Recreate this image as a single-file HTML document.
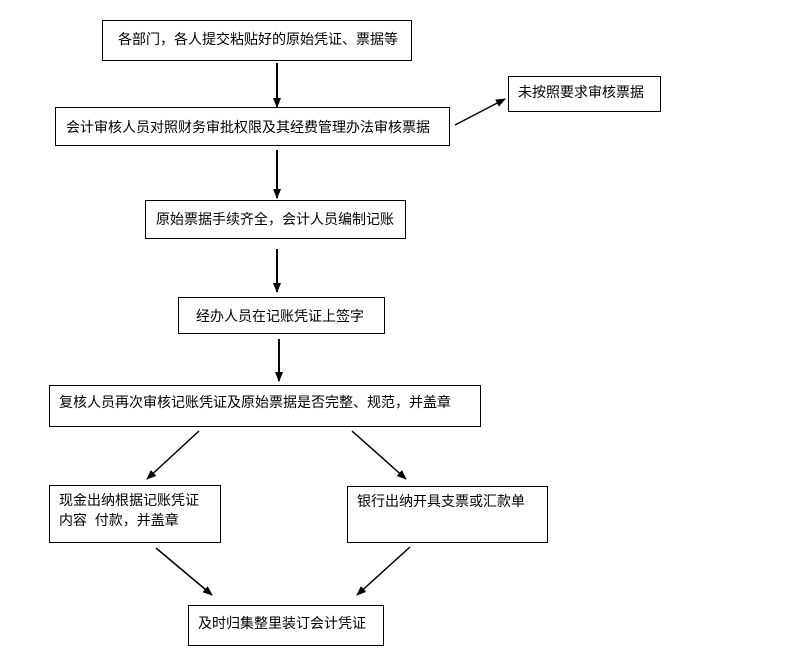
<!DOCTYPE html>
<html><head><meta charset="utf-8"><style>
body{margin:0;width:793px;height:666px;background:#fff;position:relative;overflow:hidden;font-family:"Liberation Sans","Noto Sans CJK SC","WenQuanYi Zen Hei",sans-serif;font-size:14px;color:#000}
.b{position:absolute;border:1px solid #000;box-sizing:border-box;line-height:20px;white-space:nowrap}
svg{position:absolute;left:0;top:0}
</style></head><body>
<svg width="793" height="666">
<defs><marker id="a" markerWidth="10" markerHeight="10" refX="9" refY="5" orient="auto" markerUnits="userSpaceOnUse"><path d="M0,1 L10,5 L0,9 Z" fill="#000"/></marker></defs>
<g stroke="#000" stroke-width="2" marker-end="url(#a)">
<line x1="277" y1="63" x2="277" y2="107"/>
<line x1="277" y1="150" x2="277" y2="198"/>
<line x1="277" y1="249" x2="277" y2="292"/>
<line x1="279" y1="339" x2="279" y2="381"/>
</g>
<g stroke="#000" stroke-width="1.5" marker-end="url(#a)">
<line x1="455" y1="125" x2="505" y2="99"/>
<line x1="199" y1="431" x2="147" y2="479"/>
<line x1="352" y1="431" x2="406" y2="479"/>
<line x1="156" y1="548" x2="212" y2="595"/>
<line x1="410" y1="547" x2="357" y2="595"/>
</g></svg>
<div class="b" style="left:102px;top:20px;width:310px;height:41px;padding:8px 0 0 15px">各部门，各人提交粘贴好的原始凭证、票据等</div>
<div class="b" style="left:55px;top:107px;width:395px;height:39px;padding:9px 0 0 10px">会计审核人员对照财务审批权限及其经费管理办法审核票据</div>
<div class="b" style="left:508px;top:76px;width:153px;height:36px;padding:5px 0 0 9px">未按照要求审核票据</div>
<div class="b" style="left:145px;top:200px;width:261px;height:39px;padding:8px 0 0 10px">原始票据手续齐全，会计人员编制记账</div>
<div class="b" style="left:178px;top:297px;width:207px;height:37px;padding:8px 0 0 17px">经办人员在记账凭证上签字</div>
<div class="b" style="left:49px;top:385px;width:432px;height:42px;padding:6px 0 0 9px">复核人员再次审核记账凭证及原始票据是否完整、规范，并盖章</div>
<div class="b" style="left:49px;top:485px;width:172px;height:58px;padding:4px 0 0 9px">现金出纳根据记账凭证<br>内容&nbsp; 付款，并盖章</div>
<div class="b" style="left:347px;top:486px;width:201px;height:57px;padding:4px 0 0 9px">银行出纳开具支票或汇款单</div>
<div class="b" style="left:188px;top:605px;width:196px;height:41px;padding:7px 0 0 9px">及时归集整里装订会计凭证</div>
</body></html>
